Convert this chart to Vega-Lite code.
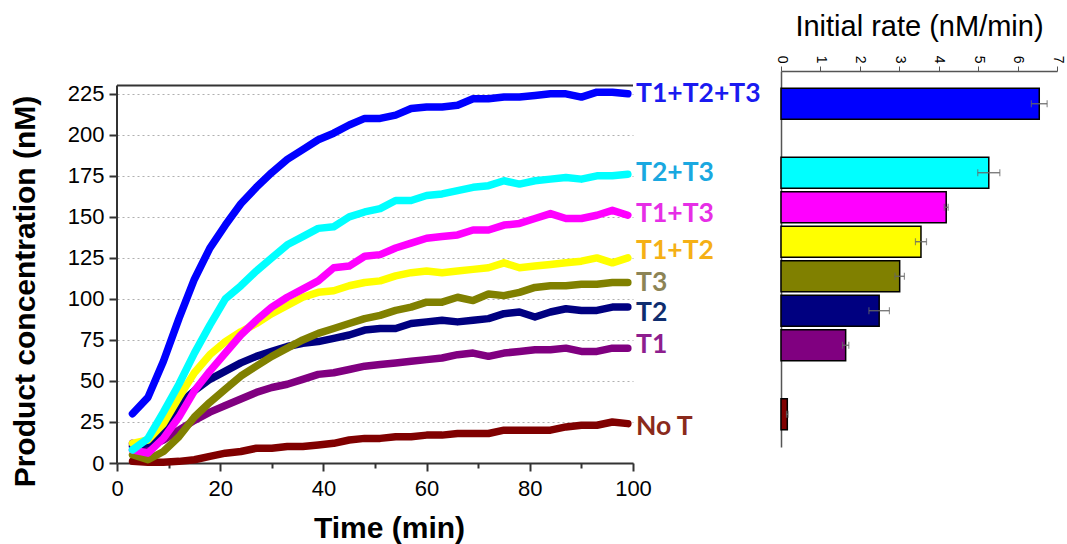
{
  "$schema": "https://vega.github.io/schema/vega-lite/v6.json",
  "background": "white",
  "padding": {"left": 9, "top": 12, "right": 5, "bottom": 5},
  "config": {"view": {"stroke": null}, "font": "Liberation Sans", "axis": {"labelOverlap": false}},
  "spacing": 13,
  "hconcat": [
    {
      "width": 516,
      "height": 392,
      "layer": [
        {
          "data": {"values": [
            {"t": 3, "T1+T2+T3": 30, "T2+T3": 8, "T1+T3": 8, "T1+T2": 12, "T3": 5, "T2": 10, "T1": 12, "No T": 1},
            {"t": 6, "T1+T2+T3": 40, "T2+T3": 15, "T1+T3": 6, "T1+T2": 14, "T3": 2, "T2": 12, "T1": 10, "No T": 0.5},
            {"t": 9, "T1+T2+T3": 62, "T2+T3": 31, "T1+T3": 15, "T1+T2": 24, "T3": 7, "T2": 20, "T1": 14, "No T": 0.5},
            {"t": 12, "T1+T2+T3": 88, "T2+T3": 48, "T1+T3": 28, "T1+T2": 40, "T3": 16, "T2": 36, "T1": 20, "No T": 1},
            {"t": 15, "T1+T2+T3": 112, "T2+T3": 67, "T1+T3": 44, "T1+T2": 55, "T3": 28, "T2": 44, "T1": 26, "No T": 2},
            {"t": 18, "T1+T2+T3": 131, "T2+T3": 84, "T1+T3": 56, "T1+T2": 66, "T3": 37, "T2": 51, "T1": 31, "No T": 4},
            {"t": 21, "T1+T2+T3": 145, "T2+T3": 100, "T1+T3": 67, "T1+T2": 74, "T3": 45, "T2": 56, "T1": 35, "No T": 6},
            {"t": 24, "T1+T2+T3": 158, "T2+T3": 108, "T1+T3": 78, "T1+T2": 80, "T3": 53, "T2": 61, "T1": 39, "No T": 7},
            {"t": 27, "T1+T2+T3": 168, "T2+T3": 117, "T1+T3": 87, "T1+T2": 85, "T3": 59, "T2": 65, "T1": 43, "No T": 9},
            {"t": 30, "T1+T2+T3": 177, "T2+T3": 125, "T1+T3": 95, "T1+T2": 91, "T3": 65, "T2": 68, "T1": 46, "No T": 9},
            {"t": 33, "T1+T2+T3": 185, "T2+T3": 133, "T1+T3": 101, "T1+T2": 96, "T3": 70, "T2": 71, "T1": 48, "No T": 10},
            {"t": 36, "T1+T2+T3": 191, "T2+T3": 138, "T1+T3": 106, "T1+T2": 101, "T3": 75, "T2": 73, "T1": 51, "No T": 10},
            {"t": 39, "T1+T2+T3": 197, "T2+T3": 143, "T1+T3": 111, "T1+T2": 104, "T3": 79, "T2": 74, "T1": 54, "No T": 11},
            {"t": 42, "T1+T2+T3": 201, "T2+T3": 144, "T1+T3": 119, "T1+T2": 105, "T3": 82, "T2": 76, "T1": 55, "No T": 12},
            {"t": 45, "T1+T2+T3": 206, "T2+T3": 150, "T1+T3": 120, "T1+T2": 108, "T3": 85, "T2": 78, "T1": 57, "No T": 14},
            {"t": 48, "T1+T2+T3": 210, "T2+T3": 153, "T1+T3": 126, "T1+T2": 110, "T3": 88, "T2": 81, "T1": 59, "No T": 15},
            {"t": 51, "T1+T2+T3": 210, "T2+T3": 155, "T1+T3": 127, "T1+T2": 111, "T3": 90, "T2": 82, "T1": 60, "No T": 15},
            {"t": 54, "T1+T2+T3": 212, "T2+T3": 160, "T1+T3": 131, "T1+T2": 114, "T3": 93, "T2": 82, "T1": 61, "No T": 16},
            {"t": 57, "T1+T2+T3": 216, "T2+T3": 160, "T1+T3": 134, "T1+T2": 116, "T3": 95, "T2": 85, "T1": 62, "No T": 16},
            {"t": 60, "T1+T2+T3": 217, "T2+T3": 163, "T1+T3": 137, "T1+T2": 117, "T3": 98, "T2": 86, "T1": 63, "No T": 17},
            {"t": 63, "T1+T2+T3": 217, "T2+T3": 164, "T1+T3": 138, "T1+T2": 116, "T3": 98, "T2": 87, "T1": 64, "No T": 17},
            {"t": 66, "T1+T2+T3": 218, "T2+T3": 166, "T1+T3": 139, "T1+T2": 117, "T3": 101, "T2": 86, "T1": 66, "No T": 18},
            {"t": 69, "T1+T2+T3": 222, "T2+T3": 168, "T1+T3": 142, "T1+T2": 118, "T3": 99, "T2": 87, "T1": 67, "No T": 18},
            {"t": 72, "T1+T2+T3": 222, "T2+T3": 169, "T1+T3": 142, "T1+T2": 119, "T3": 103, "T2": 88, "T1": 65, "No T": 18},
            {"t": 75, "T1+T2+T3": 223, "T2+T3": 172, "T1+T3": 145, "T1+T2": 122, "T3": 102, "T2": 91, "T1": 67, "No T": 20},
            {"t": 78, "T1+T2+T3": 223, "T2+T3": 170, "T1+T3": 146, "T1+T2": 119, "T3": 104, "T2": 92, "T1": 68, "No T": 20},
            {"t": 81, "T1+T2+T3": 224, "T2+T3": 172, "T1+T3": 149, "T1+T2": 120, "T3": 107, "T2": 89, "T1": 69, "No T": 20},
            {"t": 84, "T1+T2+T3": 225, "T2+T3": 173, "T1+T3": 152, "T1+T2": 121, "T3": 108, "T2": 92, "T1": 69, "No T": 20},
            {"t": 87, "T1+T2+T3": 225, "T2+T3": 174, "T1+T3": 149, "T1+T2": 122, "T3": 108, "T2": 94, "T1": 70, "No T": 22},
            {"t": 90, "T1+T2+T3": 223, "T2+T3": 173, "T1+T3": 149, "T1+T2": 123, "T3": 109, "T2": 93, "T1": 68, "No T": 23},
            {"t": 93, "T1+T2+T3": 226, "T2+T3": 175, "T1+T3": 151, "T1+T2": 125, "T3": 109, "T2": 93, "T1": 68, "No T": 23},
            {"t": 96, "T1+T2+T3": 226, "T2+T3": 175, "T1+T3": 154, "T1+T2": 122, "T3": 110, "T2": 95, "T1": 70, "No T": 25},
            {"t": 99, "T1+T2+T3": 225, "T2+T3": 176, "T1+T3": 151, "T1+T2": 125, "T3": 110, "T2": 95, "T1": 70, "No T": 24}
          ]},
          "transform": [{"fold": ["No T", "T1", "T2", "T3", "T1+T2", "T1+T3", "T2+T3", "T1+T2+T3"], "as": ["series", "value"]}],
          "mark": {"type": "line", "strokeWidth": 7.5, "strokeCap": "round", "strokeJoin": "round"},
          "encoding": {
            "x": {
              "field": "t", "type": "quantitative",
              "scale": {"domain": [0, 100], "nice": false},
              "axis": {
                "title": "Time (min)", "titleFontSize": 30, "titleFontWeight": "bold", "titleColor": "black",
                "titleX": 272, "titleY": 74, "titleBaseline": "alphabetic",
                "values": [0, 10, 20, 30, 40, 50, 60, 70, 80, 90, 100],
                "labelExpr": "datum.value % 20 === 0 ? datum.label : ''",
                "labelFontSize": 22, "labelColor": "black", "labelPadding": 7, "labelFlush": false, "labelOverlap": false,
                "tickSize": {"condition": {"test": "datum.value % 20 === 0", "value": 8}, "value": 5},
                "tickColor": "#333", "tickWidth": 2, "domainColor": "#333", "domainWidth": 2, "grid": false
              }
            },
            "y": {
              "field": "value", "type": "quantitative",
              "scale": {"domain": [0, 238.9], "nice": false},
              "axis": {
                "title": "Product concentration (nM)", "titleFontSize": 30, "titleFontWeight": "bold", "titleColor": "black",
                "titleX": -83, "titleY": 220, "titleBaseline": "alphabetic",
                "values": [0, 12.5, 25, 37.5, 50, 62.5, 75, 87.5, 100, 112.5, 125, 137.5, 150, 162.5, 175, 187.5, 200, 212.5, 225],
                "labelExpr": "datum.value % 25 === 0 ? datum.label : ''",
                "labelFontSize": 22, "labelColor": "black", "labelPadding": 5, "labelOverlap": false,
                "tickSize": {"condition": {"test": "datum.value % 25 === 0", "value": 8}, "value": 5},
                "tickColor": "#333", "tickWidth": 2, "domain": false,
                "grid": true,
                "gridColor": {"condition": {"test": "datum.value % 25 === 0", "value": "#b0b0b0"}, "value": "#eeeeee"},
                "gridDash": {"condition": {"test": "datum.value % 25 === 0", "value": [2, 3]}, "value": []},
                "gridWidth": 1.2
              }
            },
            "color": {
              "field": "series", "type": "nominal", "legend": null,
              "scale": {
                "domain": ["No T", "T1", "T2", "T3", "T1+T2", "T1+T3", "T2+T3", "T1+T2+T3"],
                "range": ["#800000", "#800080", "#000080", "#808000", "#ffff00", "#ff00ff", "#00ffff", "#0000ff"]
              }
            }
          }
        },
        {
          "data": {"values": [{}]},
          "mark": {"type": "rule", "color": "#333", "strokeWidth": 2},
          "encoding": {"x": {"datum": 0}, "y": {"datum": 0}, "y2": {"datum": 230}}
        },
        {
          "data": {"values": [{}]},
          "mark": {"type": "rule", "color": "#333", "strokeWidth": 2},
          "encoding": {"x": {"datum": 0}, "x2": {"datum": 100}, "y": {"datum": 230}}
        },
        {
          "data": {"values": [
            {"label": "T1+T2+T3", "t": 100, "ly": 225},
            {"label": "T2+T3", "t": 100, "ly": 177},
            {"label": "T1+T3", "t": 100, "ly": 152},
            {"label": "T1+T2", "t": 100, "ly": 129},
            {"label": "T3", "t": 100, "ly": 110},
            {"label": "T2", "t": 100, "ly": 91.5},
            {"label": "T1", "t": 100, "ly": 72},
            {"label": "No T", "t": 100, "ly": 22}
          ]},
          "mark": {"type": "text", "align": "left", "baseline": "middle", "dx": 3, "font": "Lato", "fontWeight": "bold", "fontSize": 26.5},
          "encoding": {
            "x": {"field": "t", "type": "quantitative"},
            "y": {"field": "ly", "type": "quantitative"},
            "text": {"field": "label"},
            "color": {
              "field": "label", "type": "nominal", "legend": null,
              "scale": {
                "domain": ["T1+T2+T3", "T2+T3", "T1+T3", "T1+T2", "T3", "T2", "T1", "No T"],
                "range": ["#1a1af0", "#1aa8e0", "#e62ee6", "#f5b016", "#8c8456", "#0f2d6e", "#8e1e8e", "#8a2a1c"]
              }
            }
          }
        }
      ],
      "resolve": {"scale": {"color": "independent"}}
    },
    {
      "width": 276,
      "height": 376,
      "data": {"values": [
        {"cat": "T1+T2+T3", "rate": 6.55, "lo": 6.35, "hi": 6.75},
        {"cat": "T2+T3", "rate": 5.27, "lo": 4.99, "hi": 5.55},
        {"cat": "T1+T3", "rate": 4.19, "lo": 4.14, "hi": 4.24},
        {"cat": "T1+T2", "rate": 3.55, "lo": 3.41, "hi": 3.69},
        {"cat": "T3", "rate": 3.01, "lo": 2.89, "hi": 3.13},
        {"cat": "T2", "rate": 2.49, "lo": 2.23, "hi": 2.75},
        {"cat": "T1", "rate": 1.64, "lo": 1.56, "hi": 1.72},
        {"cat": "No T", "rate": 0.16, "lo": 0.14, "hi": 0.18}
      ]},
      "encoding": {
        "y": {
          "field": "cat", "type": "nominal",
          "scale": {"domain": ["T1+T2+T3", " ", "T2+T3", "T1+T3", "T1+T2", "T3", "T2", "T1", "  ", "No T"], "paddingInner": 0.1, "paddingOuter": 0.5},
          "axis": {"title": null, "labels": false, "ticks": false, "domainColor": "#555", "domainWidth": 1.5}
        },
        "x": {
          "field": "rate", "type": "quantitative",
          "scale": {"domain": [0, 7], "nice": false},
          "axis": {
            "orient": "top", "title": "Initial rate (nM/min)", "titleFontSize": 29, "titleFontWeight": "normal", "titleColor": "black", "titlePadding": 14,
            "values": [0, 0.5, 1, 1.5, 2, 2.5, 3, 3.5, 4, 4.5, 5, 5.5, 6, 6.5, 7],
            "format": "d",
            "labelExpr": "datum.value % 1 === 0 ? datum.label : ''",
            "labelOverlap": false, "labelBound": false,
            "labelAngle": 90, "labelFontSize": 14, "labelColor": "black", "labelPadding": 3, "labelFlush": false,
            "tickSize": {"condition": {"test": "datum.value % 1 === 0", "value": 5}, "value": 3},
            "tickColor": "#555", "domainColor": "#555", "domainWidth": 1.5, "grid": false
          }
        }
      },
      "layer": [
        {
          "mark": {"type": "bar", "stroke": "black", "strokeWidth": 1.5},
          "encoding": {
            "color": {
              "field": "cat", "type": "nominal", "legend": null,
              "scale": {
                "domain": ["T1+T2+T3", "T2+T3", "T1+T3", "T1+T2", "T3", "T2", "T1", "No T"],
                "range": ["#0000ff", "#00ffff", "#ff00ff", "#ffff00", "#808000", "#000080", "#800080", "#800000"]
              }
            }
          }
        },
        {
          "mark": {"type": "rule", "color": "#666", "strokeWidth": 1.2},
          "encoding": {"x": {"field": "lo", "type": "quantitative"}, "x2": {"field": "hi"}}
        },
        {
          "mark": {"type": "tick", "color": "#666", "size": 7, "thickness": 1.2},
          "encoding": {"x": {"field": "lo", "type": "quantitative"}}
        },
        {
          "mark": {"type": "tick", "color": "#666", "size": 7, "thickness": 1.2},
          "encoding": {"x": {"field": "hi", "type": "quantitative"}}
        }
      ]
    }
  ]
}
